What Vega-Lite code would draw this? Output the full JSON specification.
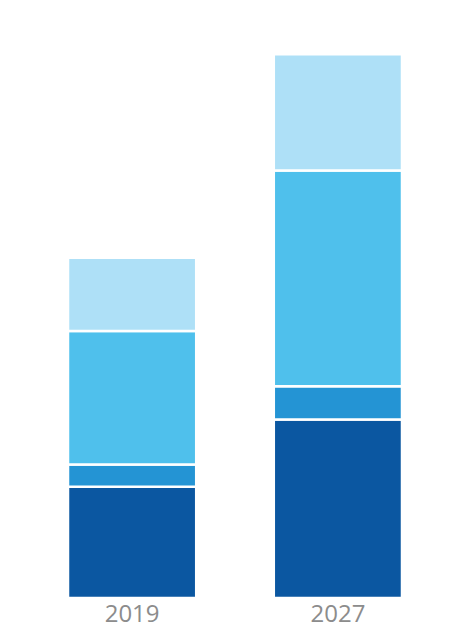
{
  "$schema": "https://vega.github.io/schema/vega-lite/v6.json",
  "width": 451,
  "height": 629,
  "padding": {"left": 66, "top": 0, "right": 47, "bottom": 3},
  "autosize": {"type": "fit", "contains": "padding"},
  "background": "#ffffff",
  "config": {"view": {"stroke": null}},
  "data": {
    "values": [
      {"year": "2019", "segment": "D", "order": 1, "value": 111},
      {"year": "2019", "segment": "C", "order": 2, "value": 22},
      {"year": "2019", "segment": "B", "order": 3, "value": 133},
      {"year": "2019", "segment": "A", "order": 4, "value": 73},
      {"year": "2027", "segment": "D", "order": 1, "value": 178},
      {"year": "2027", "segment": "C", "order": 2, "value": 33},
      {"year": "2027", "segment": "B", "order": 3, "value": 215},
      {"year": "2027", "segment": "A", "order": 4, "value": 116}
    ]
  },
  "mark": {"type": "bar", "stroke": "#ffffff", "strokeWidth": 2.5},
  "encoding": {
    "x": {
      "field": "year",
      "type": "nominal",
      "scale": {"paddingInner": 0.377, "paddingOuter": 0},
      "axis": {
        "title": null,
        "domain": false,
        "ticks": false,
        "labelAngle": 0,
        "labelFont": "Open Sans",
        "labelFontSize": 24,
        "labelColor": "#8c8c8c",
        "labelPadding": 4
      }
    },
    "y": {
      "field": "value",
      "type": "quantitative",
      "stack": "zero",
      "scale": {"domain": [0, 596], "nice": false},
      "axis": null
    },
    "order": {"field": "order", "type": "quantitative"},
    "color": {
      "field": "segment",
      "type": "nominal",
      "scale": {
        "domain": ["A", "B", "C", "D"],
        "range": ["#aee0f7", "#4fc0ec", "#2494d4", "#0b57a1"]
      },
      "legend": null
    }
  }
}
